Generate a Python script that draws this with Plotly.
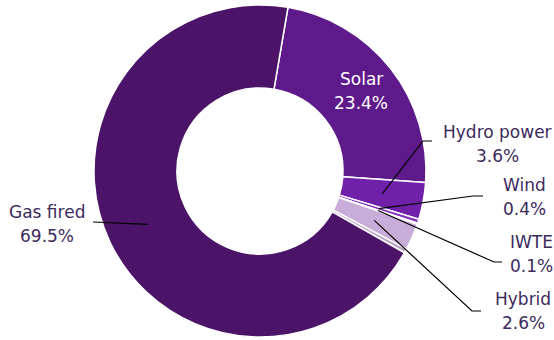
import math
import plotly.graph_objects as go

# Electricity generation mix by technology (share of total, %)
labels = ["Solar", "Hydro power", "Wind", "IWTE", "Hybrid", "Other", "Gas fired"]
values = [23.4, 3.6, 0.4, 0.1, 2.6, 0.4, 69.5]
colors = ["#5E1A8A", "#7120AA", "#8431BE", "#B58FD0", "#C9ADD9", "#B9A6C9", "#4B1469"]
shown = [True, True, True, True, True, False, True]

W, H = 554, 340
CX, CY, R = 260, 171, 166          # ring centre and outer radius in pixels
ROTATION = 9.7                     # start angle of the first slice, clockwise from 12 o'clock
LINE_GAP = 24                      # pixel distance between the two lines of a label

TEXT_COLOR = "#3D2A5C"
FONT = "DejaVu Sans"

fig = go.Figure(go.Pie(
    labels=labels,
    values=values,
    hole=0.5,
    sort=False,
    direction="clockwise",
    rotation=ROTATION,
    marker=dict(colors=colors, line=dict(color="white", width=1.5)),
    textinfo="none",
    hoverinfo="label+percent",
    domain=dict(x=[(CX - R) / W, (CX + R) / W], y=[1 - (CY + R) / H, 1 - (CY - R) / H]),
    showlegend=False,
))


def px_point(angle_deg, radius):
    a = math.radians(angle_deg)
    return CX + radius * math.sin(a), CY - radius * math.cos(a)


def to_paper(x, y):
    return x / W, 1 - y / H


def two_line_label(cx, cy, first, second, color):
    out = []
    for text, y in ((first, cy - LINE_GAP / 2), (second, cy + LINE_GAP / 2)):
        px_, py_ = to_paper(cx, y)
        out.append(dict(x=px_, y=py_, xref="paper", yref="paper", text=text,
                        showarrow=False, xanchor="center", yanchor="middle",
                        font=dict(family=FONT, size=17, color=color)))
    return out


total = sum(values)
mid_angle = {}
cum = 0.0
for lab, v in zip(labels, values):
    mid_angle[lab] = ROTATION + 360 * (cum + v / 2) / total
    cum += v

# label placement: text centre, elbow of the leader line, end of the horizontal tick
callouts = {
    "Hydro power": dict(text=(497, 144), elbow=(423, 141), end=(432, 141)),
    "Wind": dict(text=(524, 197), elbow=(473, 196), end=(483, 196)),
    "IWTE": dict(text=(531, 254), elbow=(494, 262), end=(502, 262)),
    "Hybrid": dict(text=(523, 311), elbow=(472, 311), end=(481, 311)),
    "Gas fired": dict(text=(47, 224), elbow=(93, 222), end=None),
}

shapes = []
annotations = []
for lab, v, show in zip(labels, values, shown):
    if not show:
        continue
    pct = f"{v:.1f}%"
    if lab == "Solar":
        tx, ty = px_point(mid_angle[lab], 0.775 * R)
        annotations += two_line_label(tx, ty, lab, pct, "white")
        continue
    c = callouts[lab]
    ax_, ay_ = px_point(mid_angle[lab], 0.75 * R)
    pts = [(ax_, ay_), c["elbow"]] + ([c["end"]] if c["end"] else [])
    path = "M " + " L ".join("{:.5f},{:.5f}".format(*to_paper(*p)) for p in pts)
    shapes.append(dict(type="path", path=path, xref="paper", yref="paper",
                       line=dict(color="black", width=1.2)))
    annotations += two_line_label(c["text"][0], c["text"][1], lab, pct, TEXT_COLOR)

fig.update_layout(
    width=W, height=H,
    margin=dict(l=0, r=0, t=0, b=0),
    paper_bgcolor="white",
    plot_bgcolor="white",
    shapes=shapes,
    annotations=annotations,
)

fig.write_html("out.html")
